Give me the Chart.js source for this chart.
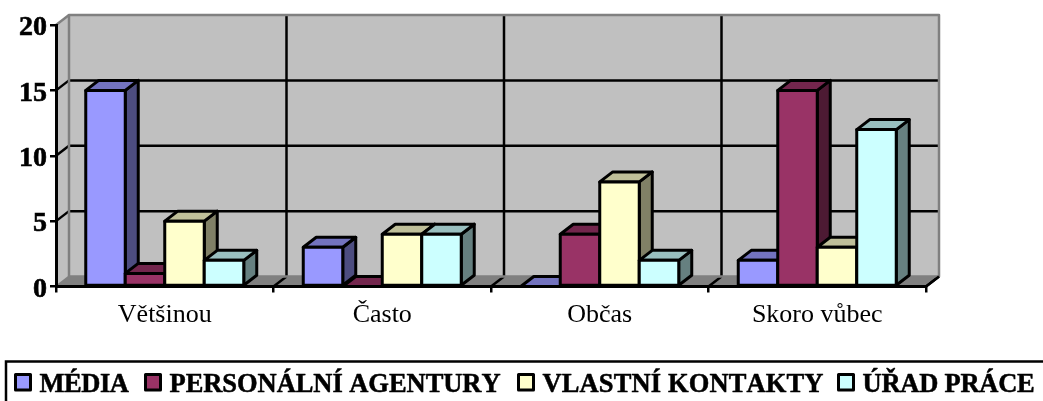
<!DOCTYPE html>
<html>
<head>
<meta charset="utf-8">
<style>html,body{margin:0;padding:0;background:#fff;overflow:hidden}canvas{display:block}</style>
<script src="https://cdn.jsdelivr.net/npm/chart.js@4/dist/chart.umd.js"></script>
</head>
<body>
<canvas id="c" width="1043" height="401"></canvas>
<script>
const categories = ['Většinou', 'Často', 'Občas', 'Skoro vůbec'];
const seriesMedia = [15, 3, 0, 2];
const seriesAgentury = [1, 0, 4, 15];
const seriesKontakty = [5, 4, 8, 3];
const seriesUrad = [2, 4, 2, 12];
const yTicks = [0, 5, 10, 15, 20];

const DX = 13, DY = -10;
const BLACK = '#000', WALL = '#c0c0c0', EDGE = '#808080';
const SERIF = '"Liberation Serif", "Times New Roman", serif';
const LW = 3;
const legendSwatchX = [14, 144, 517, 837];
const legendTextWidth = [89, 331, 281, 172];
const faces = [
  { front: '#9999ff', top: '#7373bf', side: '#4d4d80' },
  { front: '#993366', top: '#73264d', side: '#4d1a33' },
  { front: '#ffffcc', top: '#bfbf99', side: '#808066' },
  { front: '#ccffff', top: '#99bfbf', side: '#668080' }
];

function poly(ctx, pts, fill, stroke, lw) {
  ctx.beginPath();
  pts.forEach((p, i) => i ? ctx.lineTo(p[0], p[1]) : ctx.moveTo(p[0], p[1]));
  ctx.closePath();
  if (fill) { ctx.fillStyle = fill; ctx.fill(); }
  if (stroke) { ctx.strokeStyle = stroke; ctx.lineWidth = lw; ctx.lineJoin = 'round'; ctx.stroke(); }
}
function seg(ctx, x1, y1, x2, y2, color, lw) {
  ctx.beginPath(); ctx.moveTo(x1, y1); ctx.lineTo(x2, y2);
  ctx.strokeStyle = color; ctx.lineWidth = lw; ctx.stroke();
}

const box3d = {
  id: 'box3d',
  beforeDraw(chart) {
    const { ctx, chartArea: a, scales: { y } } = chart;
    ctx.fontKerning = 'none';
    ctx.save();
    ctx.fillStyle = '#fff'; ctx.fillRect(0, 0, chart.width, chart.height);
    const L = a.left, R = a.right, T = y.getPixelForValue(20), B = y.getPixelForValue(0);
    poly(ctx, [[L, T], [L + DX, T + DY], [L + DX, B + DY], [L, B]], WALL);
    poly(ctx, [[L, B], [L + DX, B + DY], [R + DX, B + DY], [R, B]], EDGE);
    poly(ctx, [[L + DX, T + DY], [R + DX, T + DY], [R + DX, B + DY], [L + DX, B + DY]], WALL);
    yTicks.slice(1, -1).forEach(v => {
      const p = y.getPixelForValue(v);
      seg(ctx, L, p, L + DX, p + DY, BLACK, 2.5);
      seg(ctx, L + DX, p + DY, R + DX, p + DY, BLACK, 2.5);
    });
    const band = (R - L) / categories.length;
    for (let i = 1; i <= categories.length; i++) {
      const px = L + band * i;
      if (i < categories.length) seg(ctx, px + DX, T + DY, px + DX, B + DY, BLACK, 2.5);
      seg(ctx, px, B, px + DX, B + DY, BLACK, 2.5);
    }
    seg(ctx, L, T, L + DX, T + DY, EDGE, 2.5);
    seg(ctx, L, B, L + DX, B + DY, EDGE, 2);
    poly(ctx, [[L + DX, T + DY], [R + DX, T + DY], [R + DX, B + DY], [L + DX, B + DY]], null, EDGE, 2.5);
    seg(ctx, R, B, R + DX, B + DY, BLACK, 2.5);
    ctx.restore();
  },
  beforeDatasetDraw() { return false; },
  afterDatasetsDraw(chart) {
    const ctx = chart.ctx;
    ctx.save();
    chart.data.datasets.forEach((ds, di) => {
      const meta = chart.getDatasetMeta(di), f = faces[di];
      meta.data.forEach(bar => {
        const { x, y, base, width } = bar.getProps(['x', 'y', 'base', 'width'], true);
        const l = x - width / 2, r = x + width / 2;
        poly(ctx, [[r, y], [r + DX, y + DY], [r + DX, base + DY], [r, base]], f.side, BLACK, LW);
        poly(ctx, [[l, y], [l + DX, y + DY], [r + DX, y + DY], [r, y]], f.top, BLACK, LW);
        if (base - y > 0.5) {
          bar.draw(ctx);
          poly(ctx, [[l, y], [r, y], [r, base], [l, base]], null, BLACK, LW);
        }
      });
    });
    ctx.restore();
  },
  afterDraw(chart) {
    const ctx = chart.ctx;
    ctx.save();
    ctx.strokeStyle = BLACK; ctx.lineWidth = 2.5;
    ctx.strokeRect(6, 361.5, 1100, 100);
    ctx.font = 'bold 26.5px ' + SERIF;
    ctx.textBaseline = 'alphabetic'; ctx.textAlign = 'left';
    ctx.lineJoin = 'round';
    chart.data.datasets.forEach((ds, i) => {
      const sx = legendSwatchX[i];
      ctx.fillStyle = faces[i].front;
      ctx.fillRect(sx + 1.5, 374.5, 15, 15.5);
      ctx.lineWidth = 3; ctx.strokeStyle = BLACK;
      ctx.strokeRect(sx + 1.5, 374.5, 15, 15.5);
      ctx.letterSpacing = '0px';
      const w = ctx.measureText(ds.label).width;
      ctx.letterSpacing = ((legendTextWidth[i] - w) / ds.label.length).toFixed(3) + 'px';
      ctx.fillStyle = BLACK;
      ctx.lineWidth = 0.5;
      ctx.fillText(ds.label, sx + 25.5, 392);
      ctx.strokeText(ds.label, sx + 25.5, 392);
    });
    ctx.restore();
  }
};

const mk = (label, data, i) => ({
  label, data,
  backgroundColor: faces[i].front,
  borderWidth: 0,
  barPercentage: 1,
  categoryPercentage: 0.7264
});

new Chart(document.getElementById('c'), {
  type: 'bar',
  data: {
    labels: categories,
    datasets: [
      mk('MÉDIA', seriesMedia, 0),
      mk('PERSONÁLNÍ AGENTURY', seriesAgentury, 1),
      mk('VLASTNÍ KONTAKTY', seriesKontakty, 2),
      mk('ÚŘAD PRÁCE', seriesUrad, 3)
    ]
  },
  plugins: [box3d],
  options: {
    responsive: false,
    animation: false,
    layout: { padding: { left: 0, right: 117, top: 25, bottom: 0 } },
    plugins: { legend: { display: false }, title: { display: false }, tooltip: { enabled: false } },
    scales: {
      x: {
        offset: true,
        grid: { offset: true, drawOnChartArea: false, drawTicks: true, tickLength: 6, color: BLACK, lineWidth: 2.5 },
        border: { display: true, color: BLACK, width: 3 },
        ticks: { color: BLACK, font: { family: SERIF, size: 26 }, padding: 7, maxRotation: 0, autoSkip: false },
        afterFit(s) { s.height = 114.5; }
      },
      y: {
        min: 0, max: 20,
        grid: { drawOnChartArea: false, drawTicks: true, tickLength: 6, color: BLACK, lineWidth: 2.5 },
        border: { display: true, color: BLACK, width: 3 },
        ticks: {
          stepSize: 5, color: BLACK,
          font: { family: SERIF, size: 28, weight: 'bold', lineHeight: '6px' },
          padding: 3,
          textStrokeColor: BLACK, textStrokeWidth: 0.6,
          callback: v => ['', String(v)]
        },
        afterFit(s) { s.width = 56; }
      }
    }
  }
});
</script>
</body>
</html>
